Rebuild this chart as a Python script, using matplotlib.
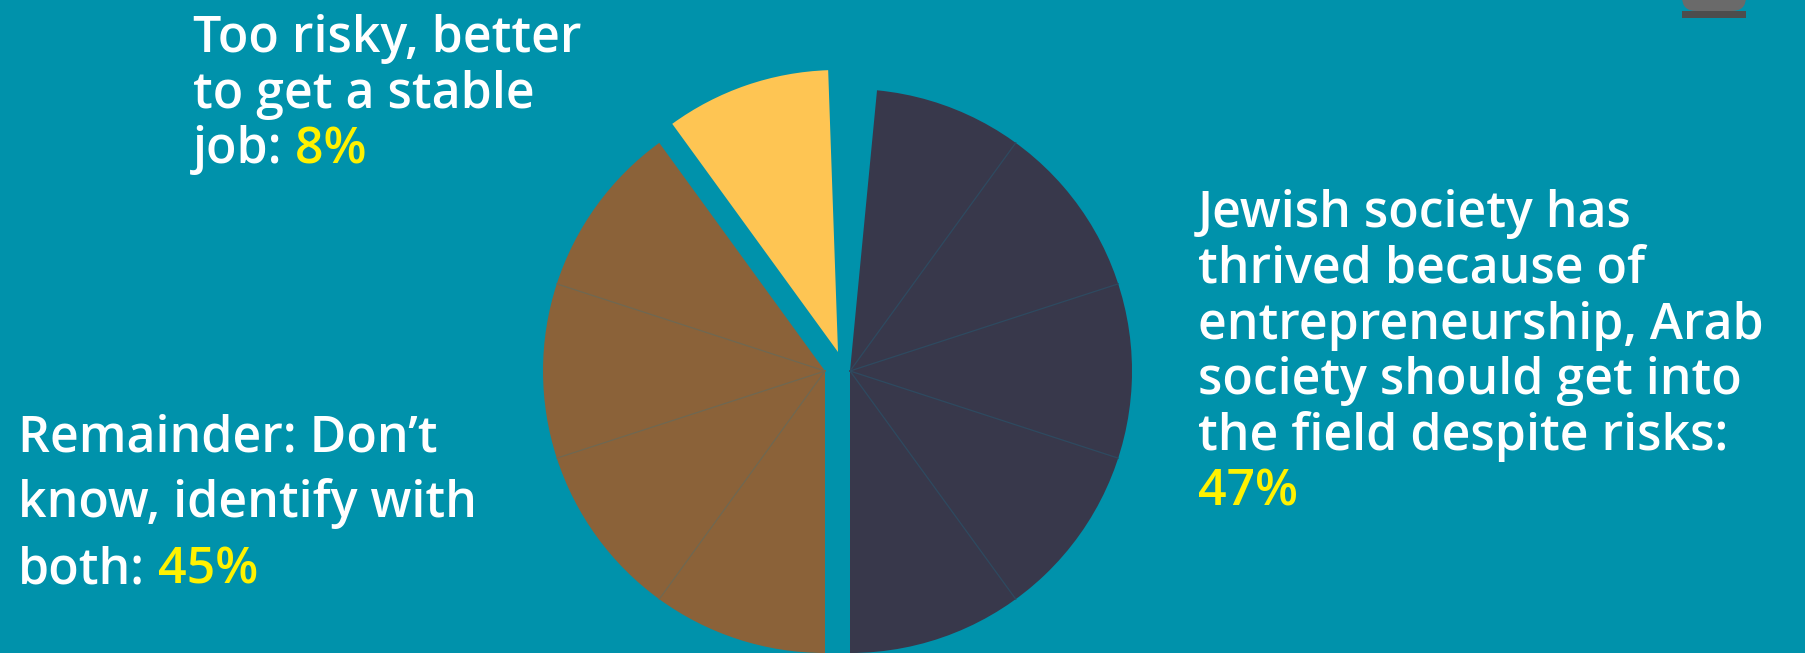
#Pie chart: Arab society attitudes towards entrepreneurship
import matplotlib
matplotlib.use('Agg')
import matplotlib.pyplot as plt
from matplotlib.patches import Wedge, FancyBboxPatch, Rectangle
import numpy as np

#Data (clockwise from the top)
categories = ['Jewish society', 'Remainder', 'Too risky']
percent = [47, 45, 8]
#number of 36-degree segments each slice covers in the drawing
segments = [5, 4, 1]

label_lines = {
    'Jewish society': ['Jewish society has', 'thrived because of', 'entrepreneurship, Arab',
                       'society should get into', 'the field despite risks:', ''],
    'Remainder': ['Remainder: Don\u2019t', 'know, identify with', 'both:'],
    'Too risky': ['Too risky, better', 'to get a stable', 'job:'],
}

#Style
bg = '#0092ab'
colors = {'Jewish society': '#38384b', 'Remainder': '#8b6239', 'Too risky': '#fec553'}
divcol = {'Jewish society': '#2e4a60', 'Remainder': '#6f6852', 'Too risky': '#fec553'}
centers = {'Jewish society': (850, 371), 'Remainder': (825, 371), 'Too risky': (838, 352)}
trim = {'Jewish society': (5.5, 0), 'Remainder': (0, 0), 'Too risky': (0, 2)}
radius = 282
seg_deg = 36.

#label positions: x, first baseline, line step
label_pos = {'Jewish society': (1198, 227, 55.8),
             'Remainder': (18, 451, 66),
             'Too risky': (193, 52, 55.5)}
white = '#ffffff'
yellow = '#fff200'
font = ['Open Sans', 'DejaVu Sans']
fs = 36
fw = 'semibold'

fig = plt.figure(figsize=(18.06, 6.53), dpi=100)
fig.patch.set_facecolor(bg)
ax = fig.add_axes([0, 0, 1, 1])
ax.set_facecolor(bg)
ax.set_xlim(0, 1806)
ax.set_ylim(653, 0)
ax.axis('off')

#slices
start = 0.
for cat, nseg in zip(categories, segments):
    a1 = start + trim[cat][0]
    a2 = start + nseg * seg_deg - trim[cat][1]
    cx, cy = centers[cat]
    ax.add_patch(Wedge((cx, cy), radius, a1 - 90, a2 - 90, facecolor=colors[cat],
                       edgecolor='none', zorder=2))
    #thin lines between the segments
    for k in range(1, nseg):
        a = np.radians(start + k * seg_deg)
        ax.plot([cx, cx + radius * np.sin(a)], [cy, cy - radius * np.cos(a)],
                color=divcol[cat], lw=0.9, zorder=3)
    start += nseg * seg_deg

#labels
for cat, p in zip(categories, percent):
    x, y0, step = label_pos[cat]
    lines = label_lines[cat]
    for i, line in enumerate(lines):
        y = y0 + i * step
        if i < len(lines) - 1:
            ax.text(x, y, line, color=white, fontsize=fs, family=font,
                    fontweight=fw, va='baseline', ha='left', zorder=5)
        elif line:
            t = ax.text(x, y, line, color=white, fontsize=fs, family=font,
                        fontweight=fw, va='baseline', ha='left', zorder=5)
            ax.annotate(' %d%%' % p, xy=(1, 0), xycoords=t, color=yellow, fontsize=fs,
                        family=font, fontweight=fw, va='bottom', ha='left', zorder=5)
        else:
            ax.text(x, y, '%d%%' % p, color=yellow, fontsize=fs, family=font,
                    fontweight=fw, va='baseline', ha='left', zorder=5)

#small grey decoration in the top right corner
ax.add_patch(FancyBboxPatch((1682, -20), 64, 31, boxstyle='round,pad=0,rounding_size=14',
                            facecolor='#6a6a6a', edgecolor='none', zorder=2))
ax.add_patch(Rectangle((1682, 11), 64, 7, facecolor='#4d4d4d', edgecolor='none', zorder=3))

plt.savefig('out.png', dpi=100, facecolor=bg)
